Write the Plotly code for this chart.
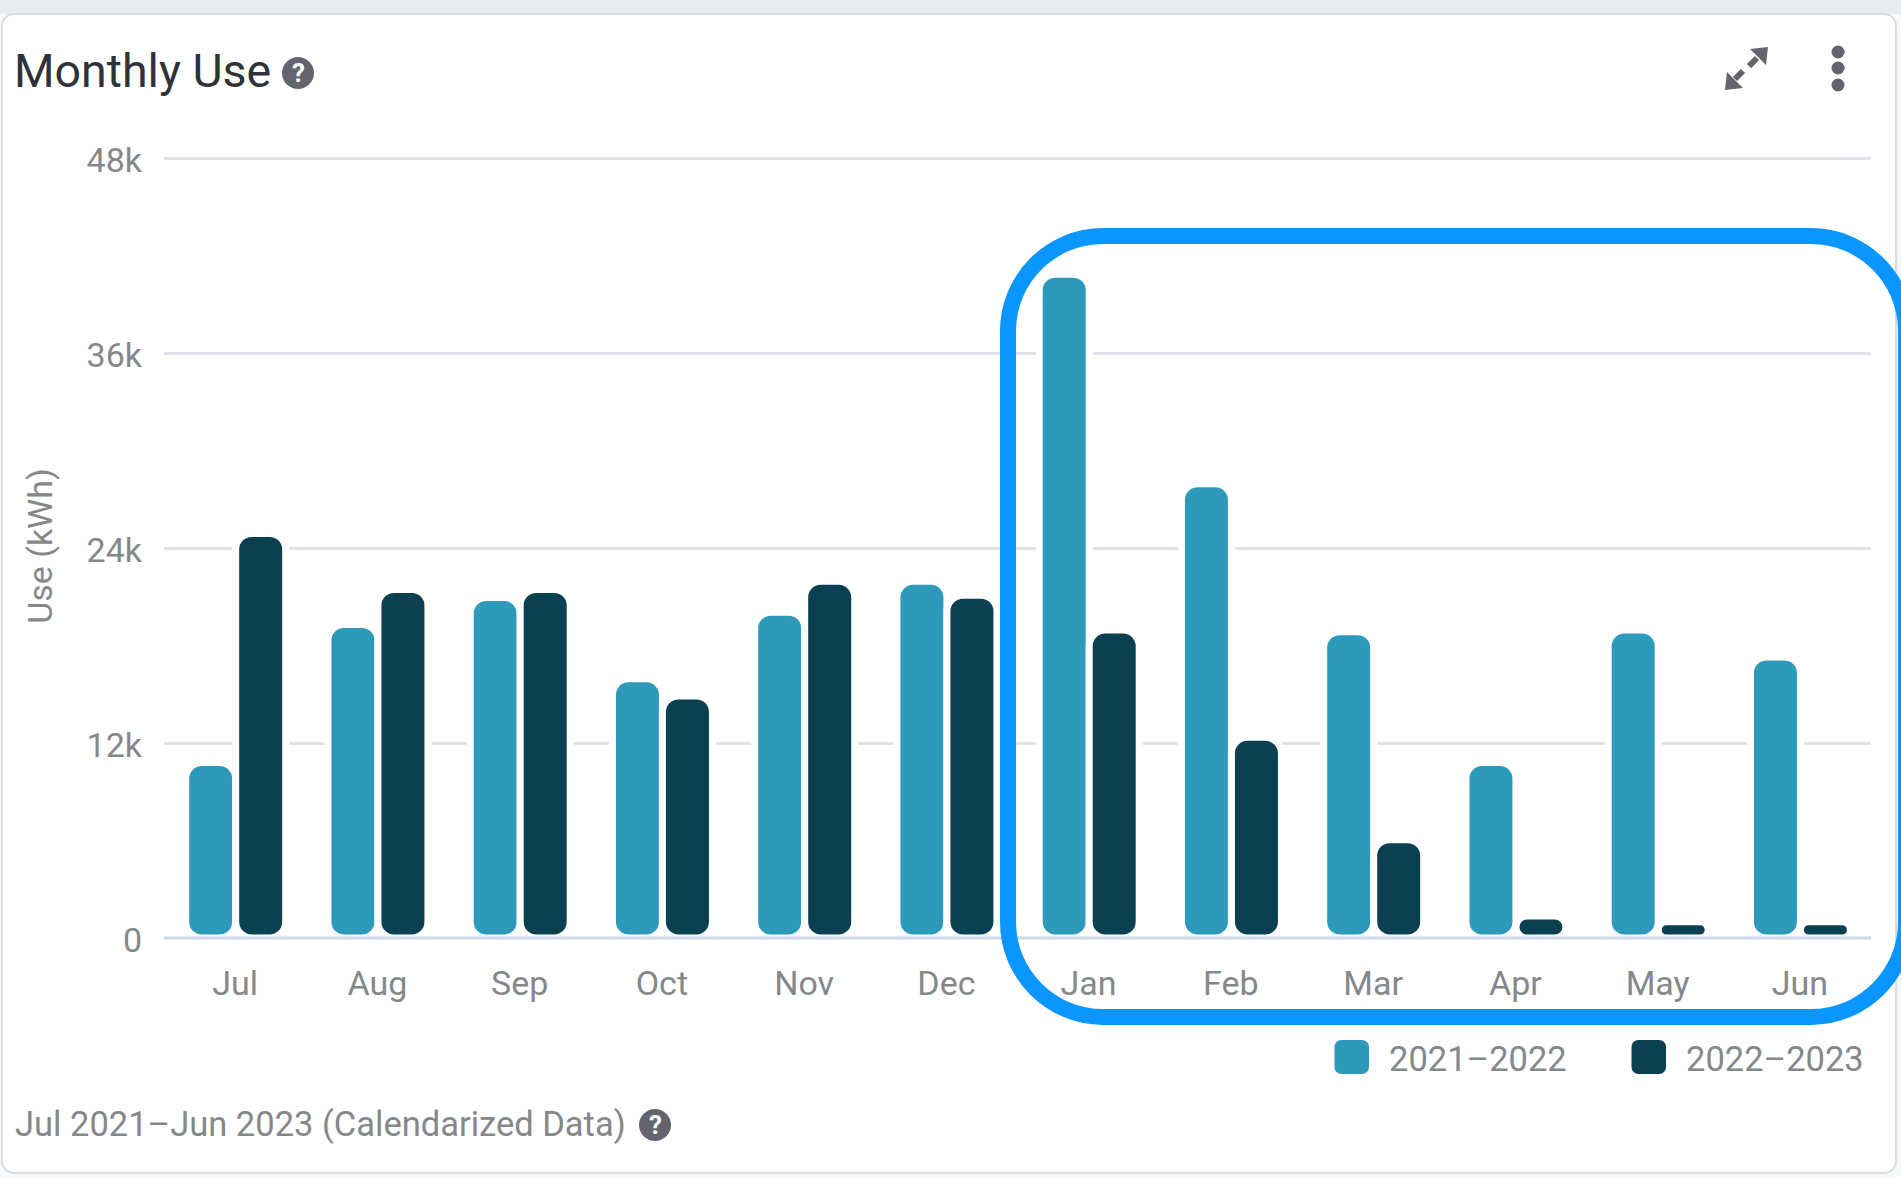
import plotly.graph_objects as go

# ---- data ----
months = ["Jul", "Aug", "Sep", "Oct", "Nov", "Dec", "Jan", "Feb", "Mar", "Apr", "May", "Jun"]
use_2021_2022 = [10800, 19300, 20950, 15950, 20050, 21950, 40850, 27950, 18850, 10800, 18950, 17300]
use_2022_2023 = [24900, 21450, 21450, 14900, 21950, 21100, 18950, 12350, 6050, 1350, 1000, 1000]
series_names = ["2021\u20132022", "2022\u20132023"]
y_tick_values = [0, 12000, 24000, 36000, 48000]
y_tick_labels = ["0", "12k", "24k", "36k", "48k"]

# ---- style ----
W, H = 1901, 1177
L, R, T, B = 164, 1871, 154, 938
GRID_TOP = 158  # pixel row of the 48k line; the plot area runs a little above it
TEAL, NAVY, BLUE, ICON = "#2e9abb", "#0a4052", "#0a95ff", "#64646e"
TXT = "#85888b"
FONT = "Roboto"
BAR_W = 0.3515
Y_TOP = y_tick_values[-1] * (B - T) / (B - GRID_TOP)


def X(px):
    return (px - L) / (R - L)


def Y(py):
    return (B - py) / (B - T)


def P(cmds):
    """Build an SVG path in paper units from pixel commands."""
    out = []
    for c in cmds:
        if len(c) == 1:
            out.append(c[0])
        else:
            pts = c[1:]
            out.append(c[0] + " ".join(f"{X(pts[i]):.5f},{Y(pts[i + 1]):.5f}" for i in range(0, len(pts), 2)))
    return " ".join(out)


def rrect(x0, y0, x1, y1, r):
    k = r * 0.45
    return P([
        ("M", x0 + r, y0), ("L", x1 - r, y0),
        ("C", x1 - k, y0, x1, y0 + k, x1, y0 + r), ("L", x1, y1 - r),
        ("C", x1, y1 - k, x1 - k, y1, x1 - r, y1), ("L", x0 + r, y1),
        ("C", x0 + k, y1, x0, y1 - k, x0, y1 - r), ("L", x0, y0 + r),
        ("C", x0, y0 + k, x0 + k, y0, x0 + r, y0), ("Z",),
    ])


def pshape(path, fill=None, line=None, width=0, layer="above"):
    return dict(type="path", xref="paper", yref="paper", path=path, layer=layer,
                fillcolor=fill or "rgba(0,0,0,0)",
                line=dict(color=line or "rgba(0,0,0,0)", width=width))


def circle(cx, cy, r, fill):
    return dict(type="circle", xref="paper", yref="paper", layer="above",
                x0=X(cx - r), x1=X(cx + r), y0=Y(cy + r), y1=Y(cy - r),
                fillcolor=fill, line=dict(width=0))


def label(text, x, y, size, color=TXT, anchor="left"):
    return dict(text=text, xref="paper", yref="paper", x=X(x), y=Y(y), xanchor=anchor, yanchor="middle",
                showarrow=False, font=dict(family=FONT, size=size, color=color))


fig = go.Figure()
for name, vals, col, off in zip(series_names, [use_2021_2022, use_2022_2023], [TEAL, NAVY],
                                [-BAR_W + 0.004, 0.004]):
    fig.add_trace(go.Bar(name=name, x=months, y=vals, showlegend=False, width=BAR_W, offset=off,
                         marker=dict(color=col, line=dict(color="white", width=7))))

shapes = [
    pshape(P([("M", 0, 0), ("L", W, 0), ("L", W, 14), ("L", 0, 14), ("Z",)]), fill="#e9edf0", layer="below"),
    pshape(rrect(2, 14, 1896, 1173, 12), fill="white", line="#d9dde0", width=2, layer="below"),
    # baseline, over the white halo of the bars
    pshape(P([("M", L, B), ("L", R, B)]), line="#ccd6eb", width=3),
    # highlight frame
    pshape(rrect(1008, 236, 1906, 1017, 95), line=BLUE, width=16),
    # legend swatches
    pshape(rrect(1334.5, 1040, 1369, 1074, 7), fill=TEAL),
    pshape(rrect(1631.5, 1040, 1666, 1074, 7), fill=NAVY),
    # help icons
    circle(298, 73, 16, ICON),
    circle(655, 1125, 16, ICON),
    # expand icon
    pshape(P([("M", 1768, 47), ("L", 1750, 49), ("L", 1766, 65), ("Z",),
              ("M", 1725, 90), ("L", 1743, 88), ("L", 1727, 72), ("Z",)]), fill=ICON),
    pshape(P([("M", 1757, 58), ("L", 1749, 66), ("M", 1735, 79), ("L", 1743, 71)]), line=ICON, width=6),
    # menu icon
    circle(1838, 52, 6.5, ICON),
    circle(1838, 68, 6.5, ICON),
    circle(1838, 85, 6.5, ICON),
]

annotations = [
    label("Monthly Use", 12, 71, 46.5, color="#2f3338"),
    label("<b>?</b>", 298, 73, 26, color="white", anchor="center"),
    label("<b>?</b>", 655, 1125, 26, color="white", anchor="center"),
    label("Jul 2021\u2013Jun 2023 (Calendarized Data)", 13, 1124, 34.5),
    label(series_names[0], 1387, 1059, 34.5),
    label(series_names[1], 1683.5, 1059, 34.5),
]

fig.update_layout(
    width=W, height=H,
    margin=dict(l=L, r=W - R, t=T, b=H - B, pad=0),
    paper_bgcolor="#f7f8f9", plot_bgcolor="rgba(0,0,0,0)",
    barmode="overlay", barcornerradius=16,
    font=dict(family=FONT, size=34, color=TXT),
    showlegend=False, shapes=shapes, annotations=annotations,
    xaxis=dict(type="category", categoryorder="array", categoryarray=months, showgrid=False,
               showline=False, zeroline=False, ticks="", ticklabelstandoff=22,
               tickfont=dict(family=FONT, size=34, color=TXT), fixedrange=True),
    yaxis=dict(range=[0, Y_TOP], tickvals=y_tick_values, ticktext=y_tick_labels,
               showgrid=True, gridcolor="#dfe2e6", gridwidth=2.5,
               zeroline=False, showline=False, ticks="", ticklabelstandoff=21, ticklabelshift=2,
               tickfont=dict(family=FONT, size=34, color=TXT), fixedrange=True,
               title=dict(text="Use (kWh)", standoff=23, font=dict(family=FONT, size=34, color=TXT))),
)

# The source bars are rounded at both ends; Plotly only rounds the far end, so the
# finished bars get their base corners rounded too, from each bar's own drawn box.
round_bases = """
document.body.style.margin='0';document.body.style.overflow='hidden';
document.querySelectorAll('.bars .point path').forEach(function(p){
  var b=p.getBBox(),x0=b.x,x1=b.x+b.width,y0=b.y,y1=b.y+b.height;
  var r=Math.min(16,b.height/2,b.width/2);
  p.setAttribute('d','M'+(x0+r)+','+y0+'H'+(x1-r)+'A'+r+','+r+' 0 0 1 '+x1+','+(y0+r)
    +'V'+(y1-r)+'A'+r+','+r+' 0 0 1 '+(x1-r)+','+y1
    +'H'+(x0+r)+'A'+r+','+r+' 0 0 1 '+x0+','+(y1-r)
    +'V'+(y0+r)+'A'+r+','+r+' 0 0 1 '+(x0+r)+','+y0+'Z');
});
"""
fig.write_html("out.html", config=dict(displayModeBar=False), post_script=round_bases)
